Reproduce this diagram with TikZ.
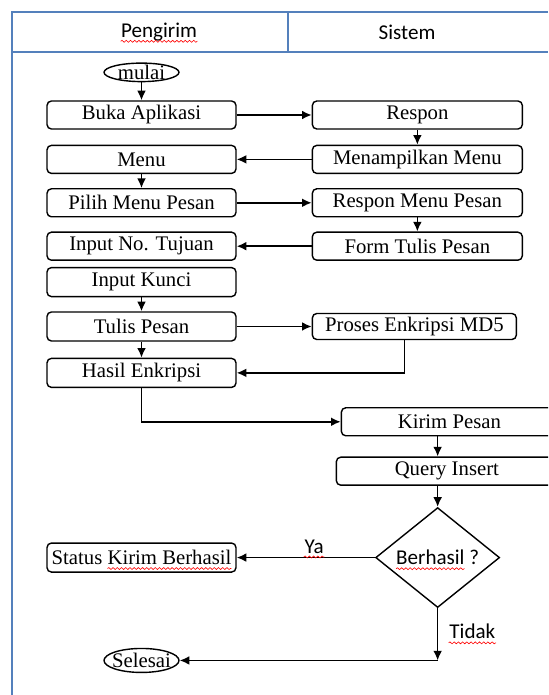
\documentclass[tikz,border=0pt]{standalone}
\usepackage{fontspec}
\setmainfont{Liberation Serif}
\newfontfamily\calibri{Carlito}
\usepackage{xcolor}
\usetikzlibrary{positioning,arrows.meta,shapes.geometric,decorations.pathmorphing}

\definecolor{lanecol}{RGB}{84,128,188}
\newcommand\boxfont{\fontsize{11.8}{13}\selectfont}
\newcommand\lblfont{\calibri\fontsize{12}{14}\selectfont}
\newlength\wberh
\newlength\wstat
\newlength\wkirim

\begin{document}
% widths for the spell-check marks
\settowidth{\wberh}{\lblfont Berhasil}
\settowidth{\wstat}{\boxfont Status\ }
\settowidth{\wkirim}{\boxfont Kirim Berhasil}
\begin{tikzpicture}[x=0.02cm, y=-0.02cm,
    >={Latex[length=5.5pt,width=5pt]},
    proc/.style={draw, rounded corners=2.5pt, line width=0.8pt, minimum height=0.56cm, minimum width=#1, inner sep=1pt, font=\boxfont},
    proc/.default=3.78cm,
    term/.style={draw, ellipse, line width=0.8pt, inner sep=-0.3cm, minimum width=1.5cm, minimum height=#1, font=\boxfont},
    decision/.style={draw, diamond, shape aspect=1.24, line width=0.8pt, minimum width=2.48cm, minimum height=2cm, inner sep=0pt, font=\lblfont},
    arr/.style={->, line width=0.9pt},
    lane/.style={draw=lanecol, line width=1pt},
    lbl/.style={font=\lblfont, inner xsep=0pt, inner ysep=2pt},
    wavy/.style={red, line width=0.35pt, decorate, decoration={snake, segment length=2.4pt, amplitude=0.55pt}},
]
\useasboundingbox (0,0) rectangle (548,695);
\clip (0,0) rectangle (548,695);

% --- Swimlanes ---
\draw[lane] (548,12) -- (12,12) -- (12,695);
\draw[lane] (12,52) -- (548,52);
\draw[lane] (288,12) -- (288,52);
\node[lbl] (hpeng) at (159,32) {Pengirim};
\node[lbl] (hsis) at (407,32) {Sistem};

% --- Pengirim ---
\node[proc] (buka) at (141.5,115) {Buka Aplikasi};
\node[term=0.37cm, above=0.36cm of buka] (mulai) {mulai};
\node[proc, below=0.3cm of buka] (menu) {Menu};
\node[proc, below=0.28cm of menu] (pilih) {Pilih Menu Pesan};
\node[proc, below=0.28cm of pilih] (tujuan) {Input No. Tujuan};
\node[proc, minimum height=0.58cm, below=0.12cm of tujuan] (kunci) {Input Kunci};
\node[proc, minimum height=0.58cm, below=0.28cm of kunci] (tulis) {Tulis Pesan};
\node[proc, minimum height=0.58cm, below=0.32cm of tulis] (hasil) {Hasil Enkripsi};

% --- Sistem ---
\node[proc=4.2cm, right=1.5cm of buka] (respon) {Respon};
\node[proc=4.2cm, right=1.5cm of menu] (tampil) {Menampilkan Menu};
\node[proc=4.2cm, right=1.5cm of pilih] (resmenu) {Respon Menu Pesan};
\node[proc=4.2cm, right=1.5cm of tujuan] (form) {Form Tulis Pesan};
\node[proc=4.08cm, minimum height=0.52cm, right=1.5cm of tulis] (proses) {Proses Enkripsi MD5};
\node[proc=4.32cm, below right=0.38cm and 2.08cm of hasil] (kirim) {Kirim Pesan};
\node[proc=4.42cm, below=0.4cm of kirim.south east, anchor=north east] (query) {Query Insert};
\node[decision, below=0.42cm of query.south west, xshift=2.04cm] (dec) {Berhasil ?};

\node[proc, minimum height=0.58cm] (status) at (hasil |- dec) {Status Kirim Berhasil};
\node[term=0.48cm, below=1.5cm of status] (selesai) {Selesai};

% --- Arrows ---
\draw[arr] (mulai) -- (buka);
\draw[arr] (buka) -- (respon);
\draw[arr] (respon) -- (tampil);
\draw[arr] (tampil) -- (menu);
\draw[arr] (menu) -- (pilih);
\draw[arr] (pilih) -- (resmenu);
\draw[arr] (resmenu) -- (form);
\draw[arr] (form) -- (tujuan);
\draw[arr] (kunci) -- (tulis);
\draw[arr] (tulis) -- (proses);
\draw[arr] (tulis) -- (hasil);
\draw[arr] ([xshift=-0.2cm]proses.south) |- (hasil.east);
\draw[arr] (hasil.south) |- (kirim.west);
\draw[arr] (kirim.south -| dec.north) -- (query.north -| dec.north);
\draw[arr] (query.south -| dec.north) -- (dec.north);

% decision outputs
\draw[arr] (dec.west) -- (status.east) node[lbl, pos=0.44, above] (ya) {Ya};
\coordinate (tdk) at (dec.south |- selesai.east);
\draw[arr] (dec.south) -- (tdk) node[lbl, pos=0.45, right=0.22cm] (tidak) {Tidak};
\draw[arr] (tdk) -- (selesai.east);

% spell-check marks
\draw[wavy] ([yshift=-2.2pt]hpeng.base west) -- ([yshift=-2.2pt]hpeng.base east);
\draw[wavy] ([yshift=-2.2pt]ya.base west) -- ([yshift=-2.2pt]ya.base east);
\draw[wavy] ([yshift=-2.2pt]tidak.base west) -- ([yshift=-2.2pt]tidak.base east);
\draw[wavy] ([yshift=-2.2pt]dec.text) -- ++(\wberh,0pt);
\draw[wavy] ([xshift=\wstat, yshift=-2.2pt]status.text) -- ++(\wkirim,0pt);

\end{tikzpicture}
\end{document}
